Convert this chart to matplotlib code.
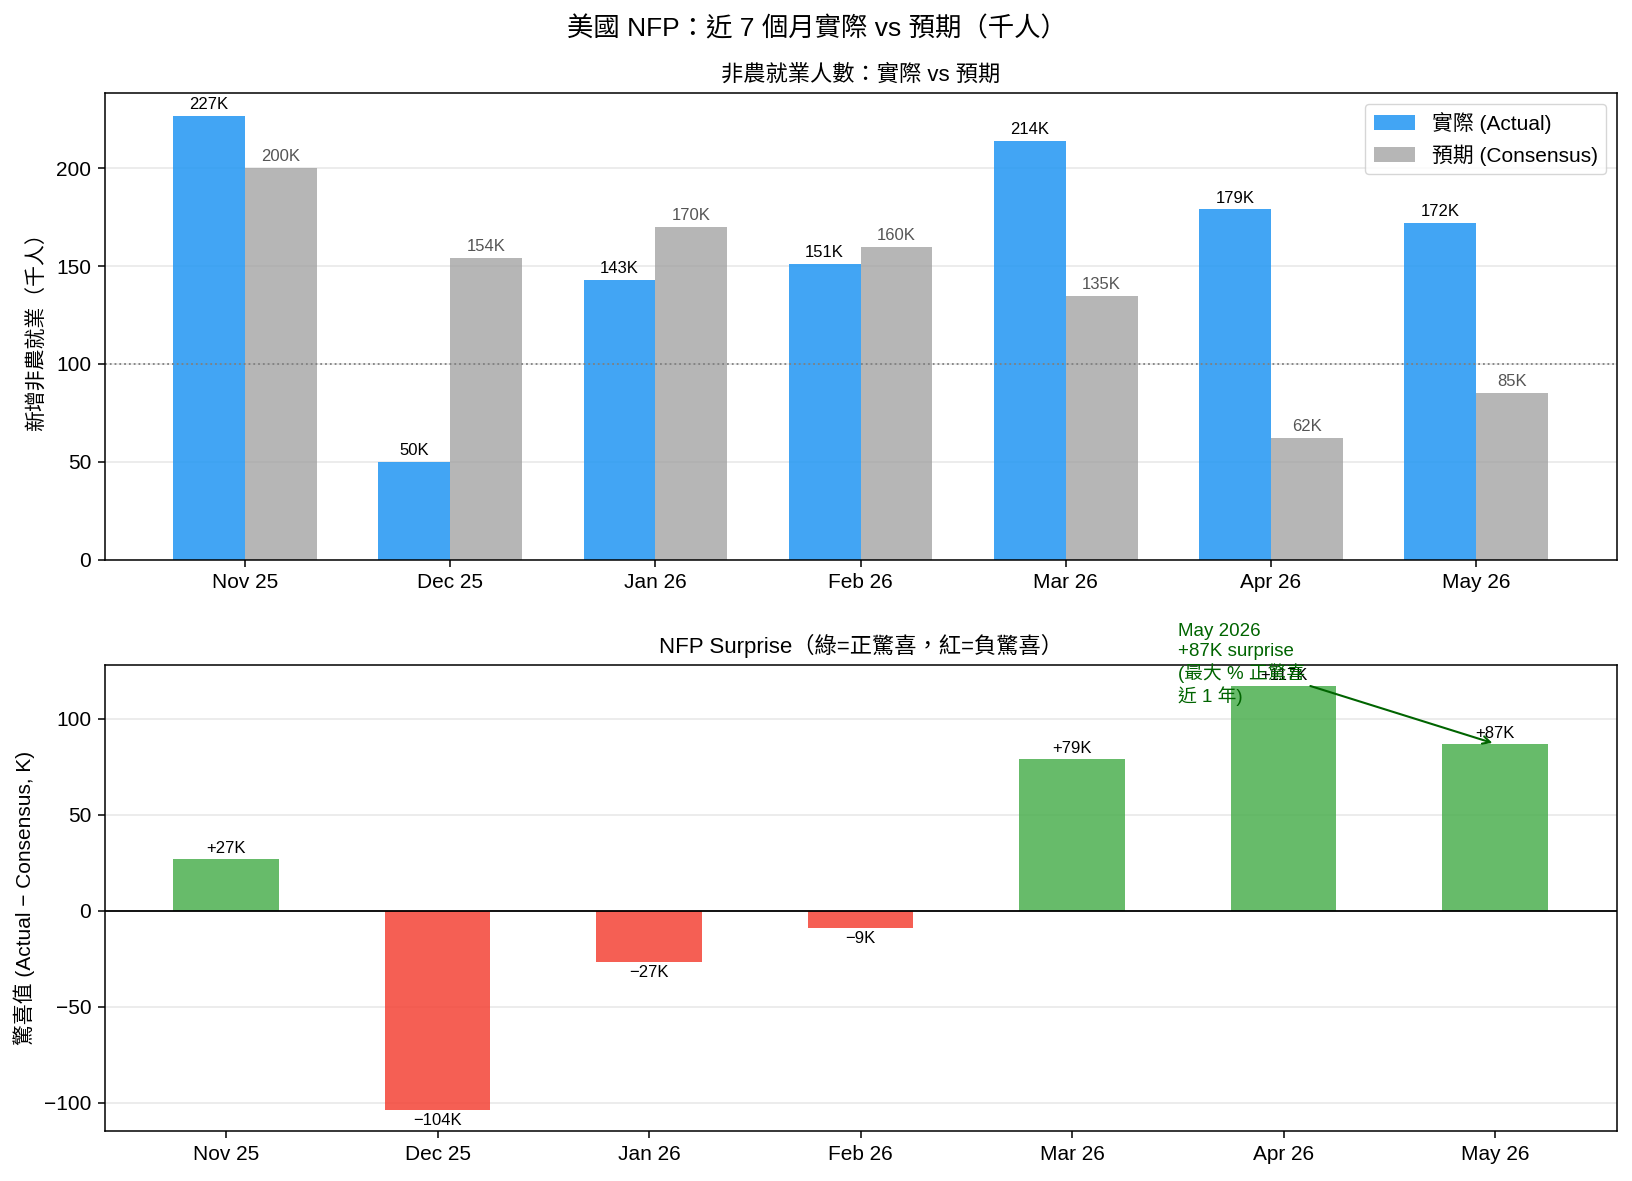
import matplotlib
matplotlib.use("Agg")
import matplotlib.pyplot as plt
import numpy as np

plt.rcParams['font.family'] = ['Liberation Sans', 'Noto Sans CJK TC', 'DejaVu Sans']
plt.rcParams['axes.unicode_minus'] = True
plt.rcParams['axes.linewidth'] = 1.1
for ax_name in ("xtick", "ytick"):
    plt.rcParams[f'{ax_name}.major.size'] = 4.8
    plt.rcParams[f'{ax_name}.major.width'] = 1.1
    plt.rcParams[f'{ax_name}.major.pad'] = 4.8

months = ["Nov 25", "Dec 25", "Jan 26", "Feb 26", "Mar 26", "Apr 26", "May 26"]
actual = [227, 50, 143, 151, 214, 179, 172]
consensus = [200, 154, 170, 160, 135, 62, 85]
surprise = [a - c for a, c in zip(actual, consensus)]

BLUE = "#2196F3"
GRAY = "#9E9E9E"
GREEN = "#4CAF50"
RED = "#F44336"


def fmt_signed(v):
    return ("+" if v >= 0 else "\u2212") + f"{abs(v)}K"


fig, (ax1, ax2) = plt.subplots(2, 1, figsize=(16.33, 11.81), dpi=100)
fig.subplots_adjust(left=0.064, right=0.990, top=0.921, bottom=0.042, hspace=0.226)
fig.suptitle("美國 NFP：近 7 個月實際 vs 預期（千人）", fontsize=19, y=0.986)

# top: actual vs consensus
x = np.arange(len(months))
w = 0.35
b1 = ax1.bar(x - w / 2, actual, w, color=BLUE, alpha=0.85, label="實際 (Actual)")
b2 = ax1.bar(x + w / 2, consensus, w, color=GRAY, alpha=0.75, label="預期 (Consensus)")
for rect, v in zip(b1, actual):
    ax1.text(rect.get_x() + rect.get_width() / 2, v + 2, f"{v}K",
             ha="center", va="bottom", fontsize=12)
for rect, v in zip(b2, consensus):
    ax1.text(rect.get_x() + rect.get_width() / 2, v + 2, f"{v}K",
             ha="center", va="bottom", fontsize=12, color="#555555")
ax1.axhline(100, color="gray", linestyle=":", linewidth=1.3)
ax1.set_xticks(x)
ax1.set_xticklabels(months, fontsize=15)
ax1.tick_params(axis="y", labelsize=15)
ax1.set_ylabel("新增非農就業（千人）", fontsize=15, labelpad=6.5)
ax1.set_title("非農就業人數：實際 vs 預期", fontsize=16, pad=9)
ax1.set_ylim(0, max(actual) * 1.05)
ax1.grid(axis="y", alpha=0.3, linewidth=1.1)
ax1.set_axisbelow(True)
ax1.legend(loc="upper right", fontsize=15)

# bottom: surprise
colors = [GREEN if s >= 0 else RED for s in surprise]
bars = ax2.bar(x, surprise, 0.5, color=colors, alpha=0.85)
for rect, v in zip(bars, surprise):
    if v >= 0:
        ax2.text(rect.get_x() + rect.get_width() / 2, v + 1.5, fmt_signed(v),
                 ha="center", va="bottom", fontsize=12)
    else:
        ax2.text(rect.get_x() + rect.get_width() / 2, v - 1.5, fmt_signed(v),
                 ha="center", va="top", fontsize=12)
ax2.axhline(0, color="black", linewidth=1.3)
ax2.set_xticks(x)
ax2.set_xticklabels(months, fontsize=15)
ax2.tick_params(axis="y", labelsize=15)
ax2.set_ylabel("驚喜值 (Actual \u2212 Consensus, K)", fontsize=15, labelpad=6.5)
ax2.set_title("NFP Surprise（綠=正驚喜，紅=負驚喜）", fontsize=16, pad=9)
ax2.grid(axis="y", alpha=0.3, linewidth=1.1)
ax2.set_axisbelow(True)

last = len(months) - 1
ax2.annotate("May 2026\n+87K surprise\n(最大 % 正驚喜\n近 1 年)",
             xy=(last, surprise[last]), xytext=(last - 1.5, 109),
             fontsize=13.5, color="darkgreen",
             arrowprops=dict(arrowstyle="->", color="darkgreen", lw=1.5))

fig.savefig("out.png", dpi=100)
